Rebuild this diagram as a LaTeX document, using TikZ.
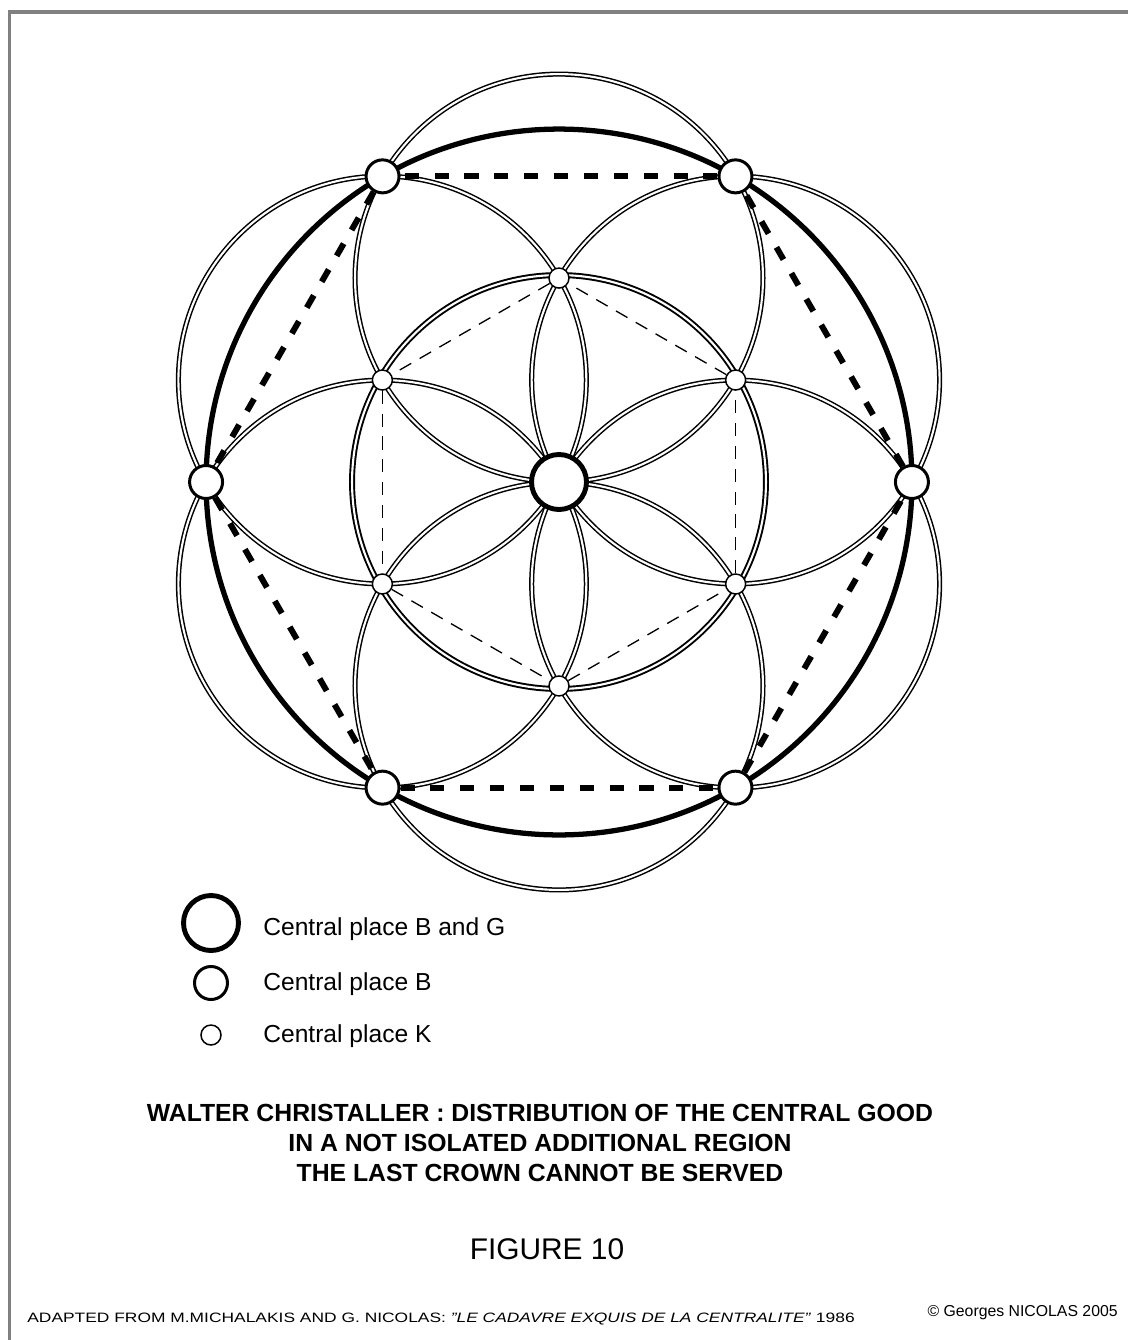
\documentclass[tikz,border=0pt]{standalone}
\usepackage{graphicx}
\usepackage{fontspec}
\setmainfont{Liberation Sans}
\usetikzlibrary{backgrounds}

\begin{document}
\begin{tikzpicture}[x=0.02cm, y=-0.02cm,
  bgplace/.style={circle, draw, fill=white, line width=2.8pt, minimum size=1.1cm, inner sep=0pt},
  bplace/.style={circle, draw, fill=white, line width=1.7pt, minimum size=0.66cm, inner sep=0pt},
  kplace/.style={circle, draw, fill=white, line width=0.85pt, minimum size=0.4cm, inner sep=0pt},
  petal/.style={line width=0.85pt, double=white, double distance=1.2pt},
  ring/.style={line width=1.1pt, double=white, double distance=1.2pt},
  crown/.style={line width=3pt},
  bhex/.style={line width=3.4pt, dash pattern=on 8pt off 9pt},
  khex/.style={line width=0.75pt, dash pattern=on 7.5pt off 5.5pt},
  legend/.style={anchor=base west, inner sep=0pt, font=\fontsize{14}{17}\selectfont}
]
\useasboundingbox (0,0) rectangle (1128,1340);
\draw[gray, line width=2pt] (9.5,1340) -- (9.5,12) -- (1128,12);

% places
\node[bgplace] (g) at (559,482) {};
\foreach \i in {1,...,6} {
  \path (g) ++(60*\i+30:4.08cm) node[kplace] (k\i) {};
  \path (g) ++(60*\i:7.06cm) node[bplace] (b\i) {};
}

% market areas
\begin{scope}[on background layer]
  \foreach \i in {1,...,6}
    \draw[petal] (k\i) circle[radius=4.08cm];
  \draw[ring] (g) circle[radius=4.14cm];
  \draw[crown] (g) circle[radius=7.06cm];
\end{scope}

% hexagons
\foreach \i/\j in {1/2,2/3,3/4,4/5,5/6,6/1} {
  \draw[bhex] (b\i) -- (b\j);
  \draw[khex] (k\i) -- (k\j);
}

% legend
\node[bgplace] (lg) at (211,923) {};
\node[bplace] (lb) at (211,983) {};
\node[kplace] (lk) at (211,1035) {};
\node[legend] (tg) at (263,935) {Central place B and G};
\node[legend] (tb) at (263,990) {Central place B};
\node[legend] (tk) at (263,1042) {Central place K};

% titles
\node[align=center, font=\fontsize{14.1}{17}\selectfont\bfseries] (title) at (540,1143)
  {WALTER CHRISTALLER : DISTRIBUTION OF THE CENTRAL GOOD\\
   IN A NOT ISOLATED ADDITIONAL REGION\\
   THE LAST CROWN CANNOT BE SERVED};
\node[anchor=base, font=\fontsize{17}{20}\selectfont] (fig) at (547,1259) {FIGURE 10};
\node[anchor=base west, inner sep=0pt] (src) at (27,1322)
  {\resizebox{16.55cm}{0.19cm}{ADAPTED FROM M.MICHALAKIS AND G. NICOLAS: \textit{"LE CADAVRE EXQUIS DE LA CENTRALITE"} 1986}};
\node[anchor=base east, inner sep=0pt, font=\fontsize{9}{9}\selectfont] (copy) at (1118,1316)
  {\textcopyright{} Georges NICOLAS 2005};
\end{tikzpicture}
\end{document}
